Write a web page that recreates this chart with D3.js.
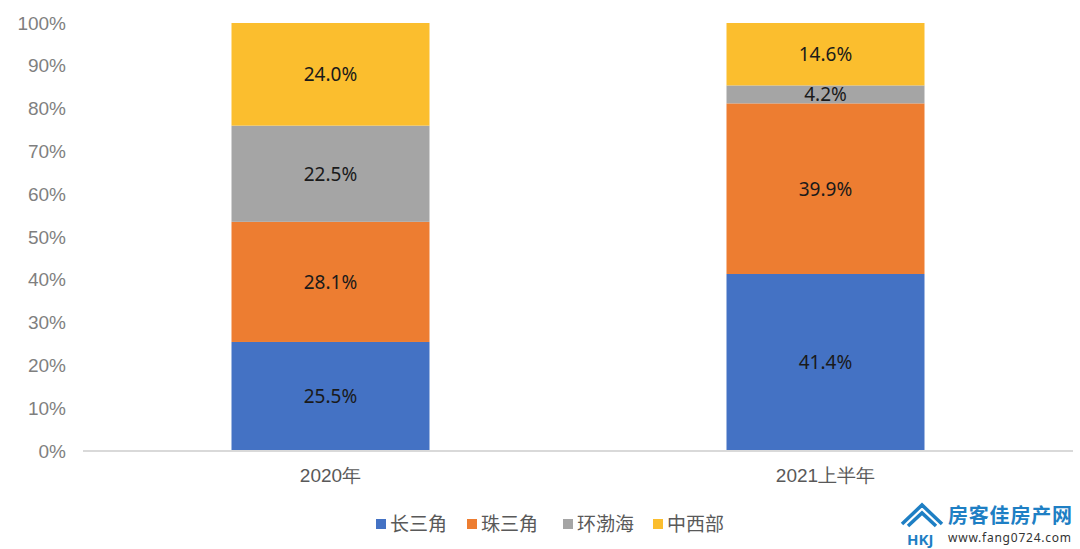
<!DOCTYPE html>
<html>
<head>
<meta charset="utf-8">
<script src="https://cdn.jsdelivr.net/npm/d3@7"></script>
<style>
  body { margin: 0; background: #fff; }
  svg { display: block; font-family: "Noto Sans", "Noto Sans CJK SC", sans-serif; }
</style>
</head>
<body>
<svg id="chart"></svg>
<script>
// data
const categories = ['2020年', '2021上半年'];
const seriesNames = ['长三角', '珠三角', '环渤海', '中西部'];
const changSanJiao = [25.5, 41.4];
const zhuSanJiao = [28.1, 39.9];
const huanBoHai = [22.5, 4.2];
const zhongXiBu = [24.0, 14.6];
const yTicks = [0, 10, 20, 30, 40, 50, 60, 70, 80, 90, 100];

const colors = ['#4472C4', '#ED7D31', '#A5A5A5', '#FBBE2E'];

// Setup
const width = 1080,
      height = 549;
const margin = {top: 23, right: 7, bottom: 98, left: 83};

const svg = d3.select('#chart')
  .attr('width', width)
  .attr('height', height);

const x = d3.scaleBand()
  .domain(categories)
  .range([margin.left, width - margin.right])
  .paddingInner(0.6)
  .paddingOuter(0.3);

const y = d3.scaleLinear()
  .domain([0, 100])
  .range([height - margin.bottom, margin.top]);

// table for stacking
const rows = categories.map((c, i) => ({
  cat: c,
  '长三角': changSanJiao[i],
  '珠三角': zhuSanJiao[i],
  '环渤海': huanBoHai[i],
  '中西部': zhongXiBu[i]
}));

// normalize like a 100% stacked chart
const stack = d3.stack().keys(seriesNames).offset(d3.stackOffsetExpand);
const layers = stack(rows);

// y axis labels
const yAxis = d3.axisLeft(y)
  .tickValues(yTicks)
  .tickFormat(d => d + '%')
  .tickSize(0)
  .tickPadding(17);

svg.append('g')
  .attr('transform', `translate(${margin.left},0)`)
  .call(yAxis)
  .call(g => g.select('.domain').remove())
  .selectAll('text')
  .attr('fill', '#7f7f7f')
  .style('font-size', '19px');

// bars
const g = svg.append('g');
layers.forEach((layer, li) => {
  g.selectAll(null)
    .data(layer)
    .enter().append('rect')
    .attr('x', d => x(d.data.cat))
    .attr('width', x.bandwidth())
    .attr('y', d => y(d[1] * 100))
    .attr('height', d => y(d[0] * 100) - y(d[1] * 100))
    .attr('fill', colors[li]);

  g.selectAll(null)
    .data(layer)
    .enter().append('text')
    .attr('x', d => x(d.data.cat) + x.bandwidth() / 2)
    .attr('y', d => y((d[0] + d[1]) / 2 * 100))
    .attr('dy', '0.36em')
    .attr('text-anchor', 'middle')
    .attr('fill', '#1a1a1a')
    .style('font-size', '19px')
    .text(d => d.data[seriesNames[li]].toFixed(1) + '%');
});

// x axis
const xAxis = d3.axisBottom(x).tickSize(0).tickPadding(18);
svg.append('g')
  .attr('transform', `translate(0,${y(0)})`)
  .call(xAxis)
  .call(a => a.select('.domain').attr('stroke', '#d9d9d9').attr('stroke-width', 2)
    .attr('d', `M${margin.left},0H${width - margin.right}`))
  .selectAll('text')
  .attr('fill', '#595959')
  .style('font-size', '19px');

// legend
const legendX = [376, 467, 563, 653];
const legend = svg.append('g');
seriesNames.forEach((name, i) => {
  legend.append('rect')
    .attr('x', legendX[i])
    .attr('y', 519)
    .attr('width', 10)
    .attr('height', 10)
    .attr('fill', colors[i]);
  legend.append('text')
    .attr('x', legendX[i] + 14)
    .attr('y', 524)
    .attr('dy', '0.36em')
    .attr('fill', '#595959')
    .style('font-size', '19px')
    .text(name);
});

// watermark
const wm = svg.append('g').attr('transform', 'translate(900,502)');
wm.append('path')
  .attr('d', 'M2,22 L22,3 L42,22 M8,24 L22,11 L36,24')
  .attr('fill', 'none')
  .attr('stroke', '#1e7fc4')
  .attr('stroke-width', 3.5);
wm.append('text')
  .attr('x', 7).attr('y', 43)
  .attr('fill', '#1e7fc4')
  .style('font-size', '15px')
  .style('font-weight', 'bold')
  .text('HKJ');
wm.append('text')
  .attr('x', 48).attr('y', 21)
  .attr('fill', '#1e7fc4')
  .style('font-size', '20px')
  .style('font-weight', 'bold')
  .style('font-family', '"Noto Sans CJK SC", sans-serif')
  .attr('textLength', 124)
  .text('房客佳房产网');
wm.append('text')
  .attr('x', 48).attr('y', 40)
  .attr('fill', '#333')
  .style('font-size', '12px')
  .attr('textLength', 123)
  .text('www.fang0724.com');
</script>
</body>
</html>
